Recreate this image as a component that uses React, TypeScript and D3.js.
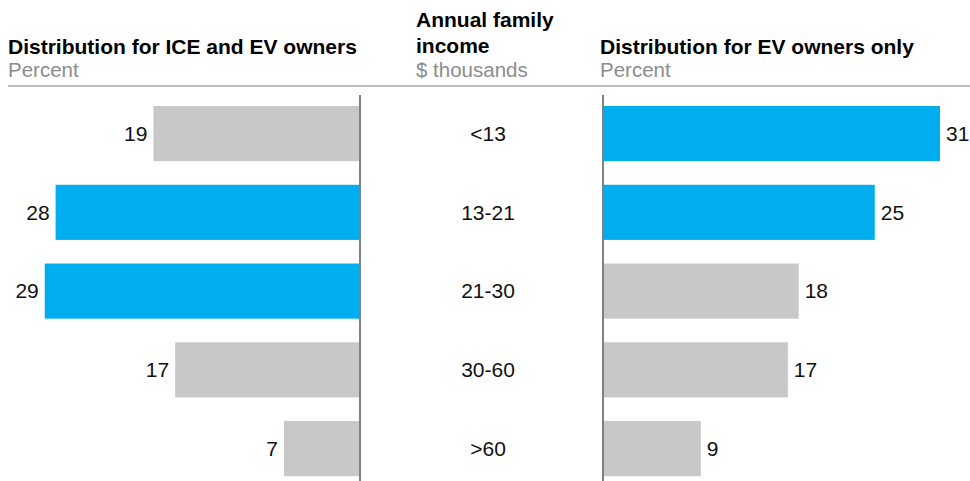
import React, { useRef, useEffect } from 'react'
import * as d3 from 'd3'

// income brackets, $ thousands
const incomeBands = ['<13', '13-21', '21-30', '30-60', '>60']
// share of all owners (ICE + EV), percent
const allOwners = [19, 28, 29, 17, 7]
// share of EV owners, percent
const evOwners = [31, 25, 18, 17, 9]
// which bars are highlighted in blue
const allHighlight = [false, true, true, false, false]
const evHighlight = [true, true, false, false, false]

const BLUE = '#00aeef'
const GREY = '#c8c8c8'
const FONT = 'Arial, "Liberation Sans", Helvetica, sans-serif'

export default function App() {
  const ref = useRef<SVGSVGElement>(null)

  useEffect(() => {
    const width = 970
    const height = 481
    const leftAxis = 360
    const rightAxis = 603
    const mid = 488

    const svg = d3.select(ref.current)
    svg.selectAll('*').remove()

    const y = d3
      .scaleBand()
      .domain(incomeBands)
      .range([94.2, 488])
      .paddingInner(0.3)
      .paddingOuter(0.15)

    const x = d3.scaleLinear().domain([0, 31]).range([0, 337])

    // headers
    const head = svg.append('g').attr('font-family', FONT)
    const bold = (tx: number, ty: number, s: string) =>
      head.append('text').attr('x', tx).attr('y', ty).attr('font-size', 21)
        .attr('font-weight', 'bold').attr('fill', '#000').text(s)
    const sub = (tx: number, ty: number, s: string) =>
      head.append('text').attr('x', tx).attr('y', ty).attr('font-size', 20.5)
        .attr('fill', '#8c8c8c').text(s)

    bold(8, 54, 'Distribution for ICE and EV owners')
    sub(8, 77, 'Percent')
    bold(416, 27, 'Annual family')
    bold(416, 53, 'income')
    sub(416, 77, '$ thousands')
    bold(600, 54, 'Distribution for EV owners only')
    sub(600, 77, 'Percent')

    svg.append('line')
      .attr('x1', 8).attr('x2', width)
      .attr('y1', 86).attr('y2', 86)
      .attr('stroke', '#a6a6a6').attr('stroke-width', 1.5)

    // left bars grow leftwards from the axis
    svg.append('g')
      .selectAll('rect')
      .data(allOwners)
      .join('rect')
      .attr('x', d => leftAxis - x(d))
      .attr('y', (d, i) => y(incomeBands[i])!)
      .attr('width', d => x(d))
      .attr('height', y.bandwidth())
      .attr('fill', (d, i) => (allHighlight[i] ? BLUE : GREY))

    svg.append('g')
      .selectAll('text')
      .data(allOwners)
      .join('text')
      .attr('x', d => leftAxis - x(d) - 6)
      .attr('y', (d, i) => y(incomeBands[i])! + y.bandwidth() / 2)
      .attr('dy', '0.35em')
      .attr('text-anchor', 'end')
      .attr('font-family', FONT)
      .attr('font-size', 21)
      .attr('fill', '#111')
      .text(d => d)

    // right bars
    svg.append('g')
      .selectAll('rect')
      .data(evOwners)
      .join('rect')
      .attr('x', rightAxis)
      .attr('y', (d, i) => y(incomeBands[i])!)
      .attr('width', d => x(d))
      .attr('height', y.bandwidth())
      .attr('fill', (d, i) => (evHighlight[i] ? BLUE : GREY))

    svg.append('g')
      .selectAll('text')
      .data(evOwners)
      .join('text')
      .attr('x', d => rightAxis + x(d) + 6)
      .attr('y', (d, i) => y(incomeBands[i])! + y.bandwidth() / 2)
      .attr('dy', '0.35em')
      .attr('font-family', FONT)
      .attr('font-size', 21)
      .attr('fill', '#111')
      .text(d => d)

    // category labels in the middle column
    svg.append('g')
      .selectAll('text')
      .data(incomeBands)
      .join('text')
      .attr('x', mid)
      .attr('y', d => y(d)! + y.bandwidth() / 2)
      .attr('dy', '0.35em')
      .attr('text-anchor', 'middle')
      .attr('font-family', FONT)
      .attr('font-size', 21)
      .attr('fill', '#111')
      .text(d => d)

    // axis lines
    ;[leftAxis, rightAxis].forEach(ax => {
      svg.append('line')
        .attr('x1', ax).attr('x2', ax)
        .attr('y1', 95).attr('y2', height)
        .attr('stroke', '#808080').attr('stroke-width', 2)
    })
  }, [])

  return (
    <svg
      ref={ref}
      width={970}
      height={481}
      style={{ position: 'absolute', left: 0, top: 0, background: '#fff' }}
    />
  )
}
